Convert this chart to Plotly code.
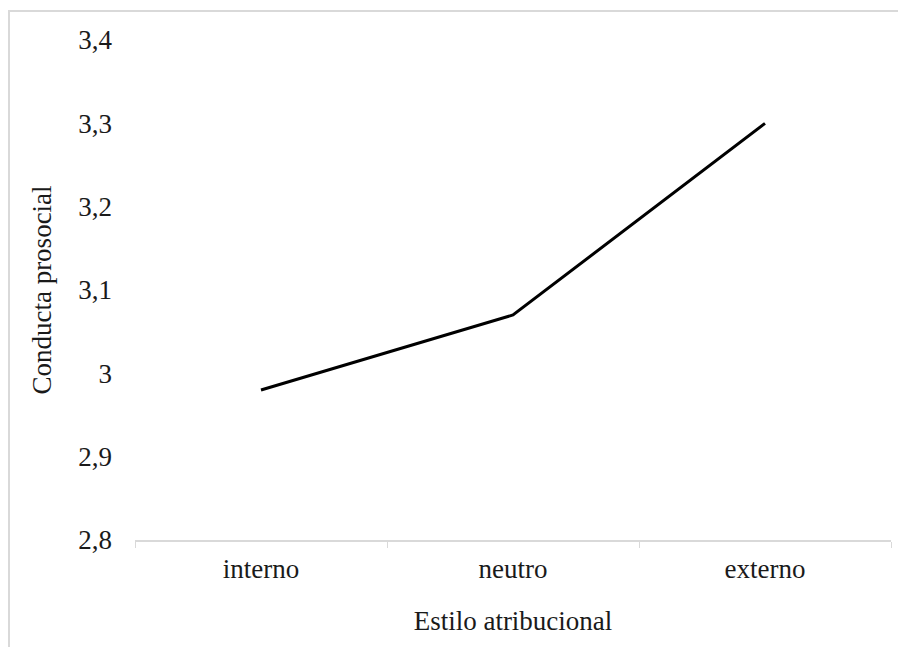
import plotly.graph_objects as go

categories = ["interno", "neutro", "externo"]
values = [2.98, 3.07, 3.30]
y_ticks = [2.8, 2.9, 3.0, 3.1, 3.2, 3.3, 3.4]
y_tick_labels = ["2,8", "2,9", "3", "3,1", "3,2", "3,3", "3,4"]

font_family = "Liberation Serif, Times New Roman, serif"
fs = 27

fig = go.Figure()
fig.add_trace(go.Scatter(
    x=categories, y=values, mode="lines",
    line=dict(color="black", width=3),
    showlegend=False, hoverinfo="skip",
))

fig.update_layout(
    width=906, height=647,
    margin=dict(l=127, r=23, t=32, b=115),
    paper_bgcolor="white", plot_bgcolor="white",
    font=dict(family=font_family, size=fs, color="#1a1a1a"),
    xaxis=dict(
        type="category", range=[-0.5, 2.5],
        showgrid=False, zeroline=False,
        showline=True, linecolor="#d9d9d9", linewidth=2,
        ticks="outside", tickson="boundaries", ticklen=6, tickcolor="#d9d9d9", tickwidth=1,
        ticklabelstandoff=4,
        tickfont=dict(size=fs),
        title=dict(text="Estilo atribucional", font=dict(size=fs), standoff=28),
    ),
    yaxis=dict(
        range=[2.8, 3.4],
        tickvals=y_ticks, ticktext=y_tick_labels,
        showgrid=False, zeroline=False, showline=False,
        ticks="", ticklabelstandoff=22,
        tickfont=dict(size=fs),
        title=dict(text="Conducta prosocial", font=dict(size=fs), standoff=18),
    ),
    shapes=[dict(
        type="rect", xref="paper", yref="paper",
        x0=-0.1667, x1=1.2, y0=-0.4, y1=1.058,
        line=dict(color="#d9d9d9", width=2), fillcolor="rgba(0,0,0,0)",
        layer="below",
    )],
)

fig.write_html("out.html")
